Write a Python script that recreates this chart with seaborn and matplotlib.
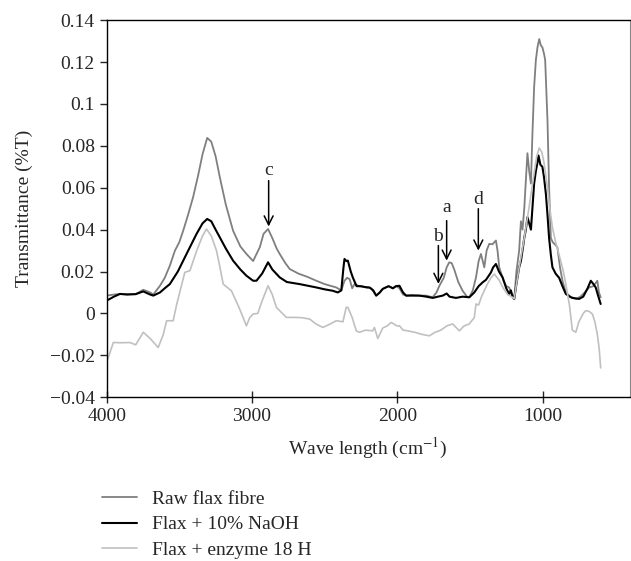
import numpy as np
import pandas as pd
import matplotlib
matplotlib.use("Agg")
import matplotlib.pyplot as plt
import seaborn as sns
from matplotlib.ticker import FuncFormatter

# ---------------------------------------------------------
# DATA
# ---------------------------------------------------------
raw_wn = [4000, 3950, 3908, 3860, 3800, 3748, 3700, 3679, 3633, 3600, 3565, 3530, 3500, 3473, 3440,
          3405, 3370, 3340, 3308, 3280, 3250, 3221, 3180, 3130, 3080, 3038, 2992, 2946, 2920, 2889,
          2860, 2830, 2809, 2770, 2740, 2680, 2620, 2557, 2500, 2450, 2420, 2385, 2363, 2345, 2328,
          2310, 2294, 2260, 2214, 2180, 2145, 2120, 2100, 2060, 2030, 2008, 1985, 1960, 1939, 1900,
          1848, 1800, 1756, 1730, 1710, 1680, 1660, 1642, 1625, 1608, 1580, 1550, 1520, 1504, 1480,
          1458, 1440, 1424, 1401, 1385, 1367, 1345, 1321, 1310, 1298, 1270, 1250, 1230, 1210, 1195,
          1180, 1161, 1149, 1138, 1126, 1115, 1104, 1092, 1080, 1070, 1058, 1046, 1035, 1023, 1012,
          1001, 990, 982, 966, 955, 943, 930, 915, 898, 880, 863, 840, 810, 771, 740,
          710, 680, 650, 623, 612, 600]
raw_val = [0.0085, 0.0090, 0.0093, 0.0092, 0.0092, 0.0113, 0.0100, 0.0090, 0.0132, 0.0170, 0.0228, 0.030, 0.034, 0.0395, 0.047,
           0.0555, 0.066, 0.076, 0.0838, 0.082, 0.075, 0.065, 0.052, 0.0395, 0.032, 0.0284, 0.025, 0.0316, 0.038, 0.0403,
           0.036, 0.031, 0.0284, 0.024, 0.0212, 0.019, 0.0175, 0.0156, 0.014, 0.013, 0.0124, 0.011, 0.0156, 0.017, 0.0164,
           0.012, 0.014, 0.013, 0.0124, 0.012, 0.0085, 0.010, 0.0117, 0.013, 0.012, 0.0132, 0.012, 0.009, 0.0085, 0.0088,
           0.0085, 0.0085, 0.0077, 0.010, 0.0132, 0.017, 0.022, 0.0244, 0.024, 0.021, 0.015, 0.0108, 0.008, 0.0077, 0.011,
           0.0172, 0.025, 0.0284, 0.022, 0.030, 0.0332, 0.033, 0.0348, 0.030, 0.022, 0.016, 0.013, 0.0124, 0.009, 0.0069,
           0.020, 0.030, 0.044, 0.040, 0.050, 0.0634, 0.0765, 0.068, 0.062, 0.085, 0.108, 0.121, 0.127, 0.131, 0.128,
           0.127, 0.124, 0.121, 0.092, 0.060, 0.036, 0.034, 0.033, 0.0316, 0.022, 0.0156, 0.010, 0.008, 0.0069, 0.008,
           0.010, 0.0124, 0.013, 0.0156, 0.010, 0.0077]

naoh_wn = [4000, 3950, 3908, 3860, 3800, 3748, 3700, 3679, 3633, 3600, 3565, 3510, 3450, 3381, 3340,
           3308, 3280, 3250, 3221, 3180, 3130, 3080, 3038, 2992, 2969, 2930, 2889, 2860, 2809, 2760,
           2672, 2600, 2557, 2500, 2443, 2409, 2385, 2370, 2363, 2350, 2340, 2320, 2306, 2280, 2250,
           2214, 2191, 2165, 2145, 2120, 2100, 2060, 2030, 2008, 1985, 1960, 1939, 1900, 1848, 1800,
           1756, 1720, 1687, 1660, 1640, 1596, 1550, 1504, 1470, 1440, 1413, 1390, 1370, 1355, 1340,
           1321, 1300, 1275, 1250, 1230, 1218, 1207, 1195, 1180, 1161, 1149, 1138, 1126, 1115, 1104,
           1092, 1080, 1070, 1058, 1046, 1035, 1028, 1015, 1001, 990, 977, 966, 955, 943, 932,
           910, 886, 863, 840, 800, 749, 720, 690, 668, 650, 634, 620, 600]
naoh_val = [0.0061, 0.0080, 0.0093, 0.0090, 0.0092, 0.0105, 0.0090, 0.0085, 0.0100, 0.012, 0.014, 0.020, 0.0284, 0.038, 0.043,
            0.0451, 0.044, 0.040, 0.0363, 0.031, 0.0252, 0.021, 0.018, 0.0156, 0.0156, 0.019, 0.0244, 0.021, 0.0172, 0.015,
            0.014, 0.013, 0.0124, 0.0115, 0.0108, 0.010, 0.011, 0.022, 0.026, 0.025, 0.0252, 0.020, 0.0172, 0.013, 0.013,
            0.0125, 0.0124, 0.011, 0.0085, 0.010, 0.0117, 0.013, 0.012, 0.013, 0.0132, 0.010, 0.0085, 0.0085, 0.0085, 0.008,
            0.0074, 0.008, 0.0085, 0.0095, 0.008, 0.0074, 0.008, 0.0077, 0.010, 0.013, 0.0148, 0.016, 0.018, 0.0196, 0.022,
            0.0236, 0.020, 0.0172, 0.012, 0.0093, 0.011, 0.008, 0.0069, 0.014, 0.022, 0.025, 0.030, 0.036, 0.040, 0.046,
            0.043, 0.040, 0.050, 0.062, 0.068, 0.072, 0.0754, 0.071, 0.070, 0.065, 0.057, 0.047, 0.036, 0.028, 0.022,
            0.019, 0.017, 0.013, 0.0093, 0.0075, 0.0069, 0.008, 0.012, 0.0156, 0.014, 0.0124, 0.009, 0.0045]

enz_wn = [4000, 3992, 3954, 3900, 3839, 3800, 3748, 3700, 3645, 3610, 3587, 3542, 3519, 3490, 3462,
          3427, 3380, 3340, 3313, 3280, 3244, 3220, 3198, 3141, 3090, 3038, 3015, 2992, 2960, 2930,
          2889, 2860, 2832, 2809, 2763, 2718, 2660, 2603, 2560, 2512, 2460, 2420, 2374, 2351, 2340,
          2310, 2282, 2260, 2220, 2168, 2157, 2134, 2100, 2070, 2042, 2000, 1985, 1960, 1928, 1880,
          1830, 1779, 1740, 1700, 1660, 1619, 1573, 1540, 1504, 1470, 1458, 1440, 1420, 1380, 1355,
          1332, 1300, 1270, 1240, 1207, 1195, 1180, 1161, 1126, 1092, 1058, 1040, 1023, 1005, 990,
          966, 950, 932, 910, 886, 860, 840, 815, 795, 771, 750, 720, 703, 680, 657,
          640, 623, 610, 600]
enz_val = [-0.022, -0.0218, -0.0139, -0.014, -0.0139, -0.015, -0.009, -0.012, -0.0163, -0.010, -0.0035, -0.0035, 0.004, 0.012, 0.0196,
           0.0204, 0.030, 0.037, 0.0403, 0.037, 0.030, 0.022, 0.014, 0.0108, 0.003, -0.0059, -0.002, -0.0003, 0.000, 0.006,
           0.0132, 0.009, 0.0029, 0.0013, -0.0019, -0.0019, -0.002, -0.0027, -0.005, -0.0067, -0.005, -0.0035, -0.004, 0.0029, 0.0029,
           -0.002, -0.0083, -0.009, -0.008, -0.0083, -0.0067, -0.012, -0.007, -0.006, -0.0043, -0.006, -0.0059, -0.008, -0.0083, -0.009,
           -0.010, -0.0107, -0.009, -0.008, -0.006, -0.005, -0.0083, -0.006, -0.005, -0.002, 0.0045, 0.004, 0.008, 0.014, 0.017,
           0.0188, 0.016, 0.012, 0.009, 0.0077, 0.007, 0.014, 0.022, 0.036, 0.051, 0.067, 0.075, 0.079, 0.077, 0.072,
           0.060, 0.050, 0.041, 0.034, 0.028, 0.021, 0.014, 0.004, -0.008, -0.009, -0.004, 0.000, 0.0013, 0.001, -0.0003,
           -0.004, -0.010, -0.017, -0.026]

labels = ["Raw flax fibre", "Flax + 10% NaOH", "Flax + enzyme 18 H"]
colors = ["#7f7f7f", "#000000", "#c0c0c0"]

# band markers: letter, wavenumber, text y, arrow start y, arrow tip y
marks = [("c", 2885, 0.0680, 0.0634, 0.0415),
         ("a", 1660, 0.0507, 0.0443, 0.0252),
         ("b", 1717, 0.0367, 0.0324, 0.0141),
         ("d", 1442, 0.0542, 0.0500, 0.0300)]

# ---------------------------------------------------------
# PLOT
# ---------------------------------------------------------
sns.set_style("white")
plt.rcParams["font.family"] = ["Liberation Serif", "DejaVu Serif"]
plt.rcParams["mathtext.fontset"] = "stix"

fig = plt.figure(figsize=(6.31, 5.61), dpi=100)
ax = fig.add_axes([0.169, 0.292, 0.829, 0.672])

series = [(raw_wn, raw_val, 1.3), (naoh_wn, naoh_val, 1.5), (enz_wn, enz_val, 1.2)]
for (wn, val, lw), lab, col in zip(series, labels, colors):
    df = pd.DataFrame({"wn": wn, "val": val})
    sns.lineplot(data=df, x="wn", y="val", ax=ax, color=col, linewidth=lw,
                 label=lab, sort=False, estimator=None)

for txt, wn, ty, y0, y1 in marks:
    ax.annotate("", xy=(wn, y1), xytext=(wn, y0),
                arrowprops=dict(arrowstyle="->", color="black", lw=1.1,
                                mutation_scale=16, shrinkA=0, shrinkB=0))
    ax.text(wn, ty, txt, ha="center", va="center", fontsize=14)

ax.set_xlim(4000, 400)
ax.set_ylim(-0.04, 0.14)
ax.set_xticks([4000, 3000, 2000, 1000])
ax.set_yticks(np.arange(-0.04, 0.141, 0.02))
ax.yaxis.set_major_formatter(FuncFormatter(lambda v, p: ("%g" % round(v, 2)).replace("-", "\u2212")))
ax.tick_params(axis="y", direction="out", length=5, width=1, labelsize=14, left=True)
ax.tick_params(axis="x", direction="inout", length=8, width=1, labelsize=14, bottom=True)

for s in ["left", "bottom", "top"]:
    ax.spines[s].set_color("black")
    ax.spines[s].set_linewidth(1.0)
ax.spines["right"].set_color("#888888")
ax.spines["right"].set_linewidth(0.8)

ax.set_xlabel("Wave length (cm$^{-1}$)", fontsize=14, labelpad=8)
ax.set_ylabel("Transmittance (%T)", fontsize=14, labelpad=12)

handles, labs = ax.get_legend_handles_labels()
ax.get_legend().remove()
fig.legend(handles, labs, loc="upper left", bbox_to_anchor=(0.162, 0.126),
           frameon=False, fontsize=14, handlelength=1.8, handletextpad=0.75,
           labelspacing=0.4, borderaxespad=0, borderpad=0)

fig.savefig("out.png", dpi=100)
